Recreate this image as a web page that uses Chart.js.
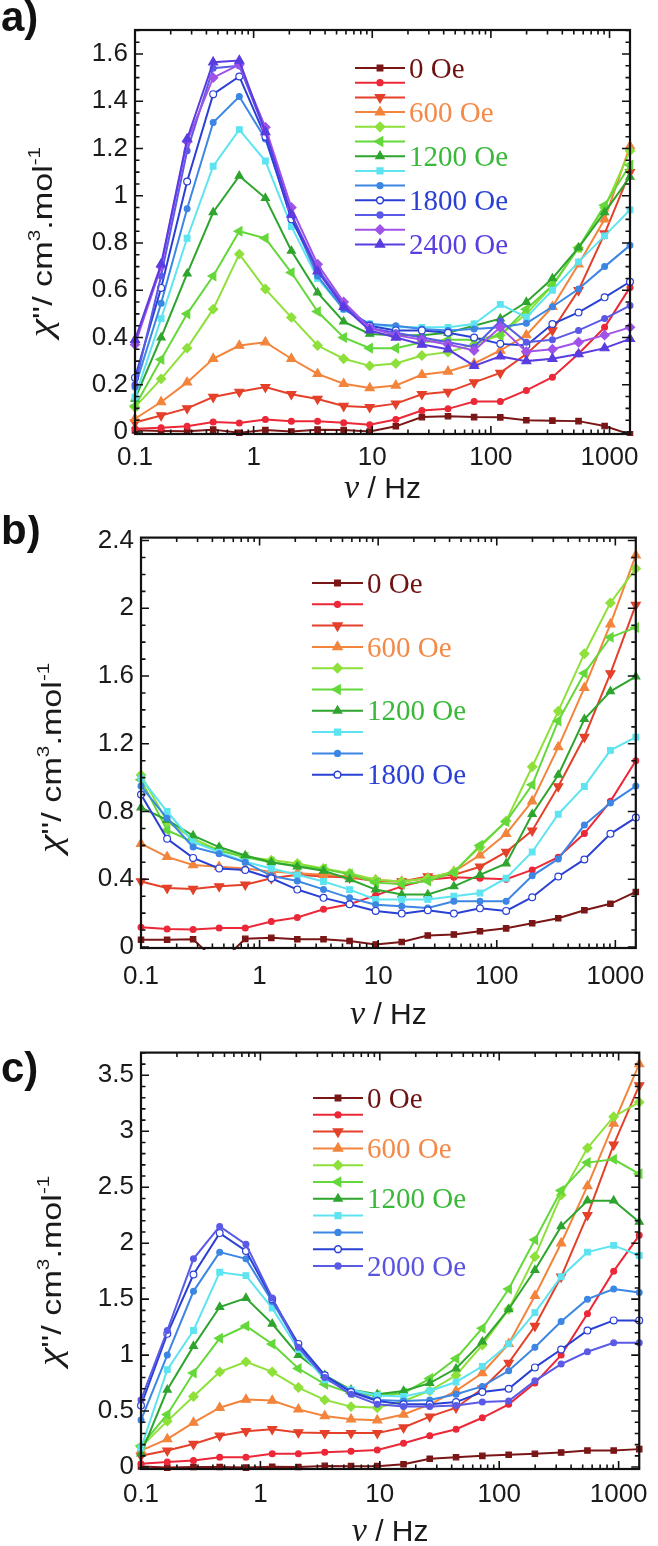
<!DOCTYPE html>
<html lang="en">
<head>
<meta charset="UTF-8">
<title>chi'' vs frequency - a, b, c</title>
<script src="https://cdn.jsdelivr.net/npm/chart.js"></script>
<style>
  body { margin: 0; background: #fff; }
  .panel { position: absolute; left: 0; width: 658px; }
  #wrapA { top: 0; height: 515px; }
  #wrapB { top: 515px; height: 515px; }
  #wrapC { top: 1030px; height: 516px; }
</style>
</head>
<body>
<div class="panel" id="wrapA"><canvas id="chartA" width="658" height="515"></canvas></div>
<div class="panel" id="wrapB"><canvas id="chartB" width="658" height="515"></canvas></div>
<div class="panel" id="wrapC"><canvas id="chartC" width="658" height="516"></canvas></div>
<script>
// frequencies (Hz), same for all three panels
const freq = [0.1, 0.166, 0.275, 0.456, 0.757, 1.256, 2.08, 3.46, 5.74, 9.52, 15.8, 26.2, 43.5, 72.2, 120, 199, 330, 548, 909, 1488];
const xTicks = [0.1, 1, 10, 100, 1000];

// ---- panel a) : chi'' (cm3/mol), 0..2400 Oe
const a0    = [0.007,0.004,0.003,0.010,-0.003,0.008,0.002,0.010,0.008,0.002,0.024,0.063,0.067,0.063,0.062,0.050,0.048,0.046,0.025,-0.010];
const a200  = [0.014,0.018,0.024,0.042,0.038,0.053,0.045,0.045,0.039,0.031,0.053,0.091,0.098,0.129,0.129,0.176,0.232,0.331,0.443,0.612];
const a400  = [0.040,0.070,0.100,0.148,0.170,0.190,0.160,0.140,0.110,0.105,0.120,0.160,0.170,0.210,0.250,0.330,0.430,0.600,0.840,1.100];
const a600  = [0.056,0.127,0.210,0.310,0.366,0.380,0.310,0.246,0.204,0.186,0.197,0.242,0.256,0.290,0.345,0.410,0.530,0.710,0.900,1.210];
const a800  = [0.105,0.225,0.355,0.520,0.753,0.605,0.485,0.366,0.310,0.280,0.290,0.324,0.338,0.370,0.410,0.500,0.620,0.780,0.950,1.190];
const a1000 = [0.110,0.307,0.500,0.660,0.850,0.820,0.675,0.510,0.400,0.355,0.355,0.380,0.390,0.390,0.410,0.520,0.620,0.780,0.960,1.130];
const a1200 = [0.140,0.400,0.670,0.930,1.084,0.990,0.767,0.590,0.467,0.415,0.410,0.410,0.420,0.450,0.480,0.550,0.650,0.780,0.930,1.080];
const a1400 = [0.148,0.480,0.820,1.125,1.280,1.147,0.870,0.650,0.520,0.457,0.443,0.443,0.443,0.457,0.540,0.486,0.600,0.720,0.830,0.940];
const a1600 = [0.190,0.545,0.945,1.310,1.420,1.240,0.910,0.660,0.520,0.457,0.450,0.436,0.430,0.436,0.443,0.460,0.530,0.605,0.700,0.790];
const a1800 = [0.230,0.610,1.060,1.430,1.505,1.250,0.900,0.690,0.530,0.450,0.430,0.430,0.420,0.400,0.373,0.366,0.457,0.506,0.570,0.636];
const a2000 = [0.200,0.660,1.190,1.540,1.550,1.270,0.920,0.690,0.540,0.440,0.420,0.400,0.380,0.360,0.470,0.380,0.390,0.430,0.480,0.535];
const a2200 = [0.370,0.700,1.230,1.500,1.555,1.290,0.950,0.710,0.550,0.440,0.410,0.390,0.370,0.345,0.443,0.340,0.350,0.380,0.410,0.443];
const a2400 = [0.390,0.710,1.240,1.565,1.572,1.270,0.920,0.680,0.530,0.430,0.400,0.370,0.350,0.280,0.320,0.300,0.310,0.330,0.355,0.394];
const fieldsA = [0, 200, 400, 600, 800, 1000, 1200, 1400, 1600, 1800, 2000, 2200, 2400];
const seriesA = [a0, a200, a400, a600, a800, a1000, a1200, a1400, a1600, a1800, a2000, a2200, a2400];
const legendA = ['0 Oe', '', '', '600 Oe', '', '', '1200 Oe', '', '', '1800 Oe', '', '', '2400 Oe'];
const yTicksA = [0, 0.2, 0.4, 0.6, 0.8, 1, 1.2, 1.4, 1.6];

// ---- panel b) : 0..1800 Oe
const b0    = [0.043,0.043,0.046,-0.100,0.048,0.054,0.046,0.046,0.035,0.015,0.029,0.068,0.074,0.093,0.110,0.140,0.170,0.217,0.255,0.325];
const b200  = [0.116,0.106,0.103,0.112,0.112,0.151,0.174,0.223,0.252,0.305,0.358,0.397,0.412,0.406,0.400,0.455,0.530,0.670,0.860,1.100];
const b400  = [0.387,0.348,0.342,0.358,0.368,0.406,0.426,0.416,0.410,0.390,0.387,0.416,0.426,0.474,0.561,0.687,0.948,1.240,1.616,2.020];
const b600  = [0.610,0.532,0.484,0.474,0.464,0.445,0.435,0.426,0.416,0.395,0.387,0.406,0.445,0.542,0.668,0.861,1.180,1.530,1.906,2.313];
const b800  = [1.016,0.740,0.639,0.571,0.532,0.513,0.493,0.464,0.435,0.397,0.387,0.406,0.445,0.590,0.745,1.064,1.393,1.732,2.032,2.235];
const b1000 = [0.987,0.690,0.620,0.570,0.530,0.500,0.480,0.460,0.430,0.380,0.370,0.390,0.440,0.600,0.740,0.958,1.335,1.616,1.829,1.887];
const b1200 = [0.823,0.750,0.658,0.590,0.540,0.500,0.475,0.450,0.400,0.339,0.310,0.310,0.358,0.426,0.493,0.784,1.016,1.345,1.510,1.597];
const b1400 = [0.997,0.800,0.620,0.560,0.503,0.464,0.426,0.387,0.339,0.281,0.281,0.281,0.300,0.319,0.406,0.561,0.784,0.948,1.161,1.239];
const b1600 = [0.950,0.760,0.590,0.550,0.500,0.420,0.390,0.340,0.290,0.250,0.240,0.230,0.270,0.270,0.270,0.420,0.520,0.720,0.850,0.950];
const b1800 = [0.900,0.639,0.526,0.464,0.455,0.406,0.339,0.290,0.252,0.213,0.197,0.217,0.197,0.228,0.213,0.294,0.416,0.517,0.668,0.764];
const fieldsB = [0, 200, 400, 600, 800, 1000, 1200, 1400, 1600, 1800];
const seriesB = [b0, b200, b400, b600, b800, b1000, b1200, b1400, b1600, b1800];
const legendB = ['0 Oe', '', '', '600 Oe', '', '', '1200 Oe', '', '', '1800 Oe'];
const yTicksB = [0, 0.4, 0.8, 1.2, 1.6, 2, 2.4];

// ---- panel c) : 0..2000 Oe
const c0    = [0.005,-0.005,0.000,0.000,-0.005,0.002,0.000,0.010,0.008,0.008,0.025,0.074,0.088,0.100,0.110,0.118,0.130,0.147,0.147,0.160];
const c200  = [0.030,0.044,0.059,0.088,0.088,0.118,0.118,0.132,0.141,0.153,0.212,0.280,0.338,0.440,0.560,0.750,1.000,1.370,1.750,2.070];
const c400  = [0.100,0.147,0.206,0.280,0.320,0.338,0.309,0.303,0.303,0.303,0.353,0.450,0.530,0.700,0.930,1.260,1.700,2.250,2.880,3.410];
const c600  = [0.147,0.250,0.397,0.530,0.603,0.594,0.515,0.456,0.426,0.418,0.470,0.560,0.680,0.840,1.100,1.530,2.000,2.510,3.070,3.600];
const c800  = [0.180,0.410,0.630,0.850,0.940,0.850,0.710,0.600,0.540,0.530,0.590,0.680,0.820,1.090,1.410,1.880,2.430,2.850,3.130,3.260];
const c1000 = [0.190,0.470,0.840,1.150,1.260,1.100,0.880,0.740,0.660,0.640,0.660,0.790,0.970,1.240,1.590,2.030,2.470,2.720,2.750,2.620];
const c1200 = [0.120,0.690,1.080,1.430,1.510,1.280,1.000,0.820,0.690,0.650,0.680,0.750,0.880,1.120,1.410,1.760,2.150,2.380,2.380,2.190];
const c1400 = [0.170,0.870,1.220,1.740,1.710,1.420,1.050,0.780,0.690,0.640,0.630,0.680,0.760,0.900,1.100,1.380,1.700,1.920,1.980,1.890];
const c1600 = [0.420,1.000,1.570,1.920,1.860,1.480,1.080,0.810,0.680,0.600,0.590,0.600,0.650,0.720,0.860,1.070,1.300,1.500,1.590,1.560];
const c1800 = [0.550,1.190,1.720,2.090,1.930,1.500,1.100,0.820,0.670,0.590,0.560,0.560,0.580,0.670,0.700,0.890,1.050,1.220,1.310,1.310];
const c2000 = [0.600,1.220,1.860,2.150,1.990,1.510,1.070,0.800,0.650,0.560,0.540,0.540,0.550,0.580,0.590,0.770,0.920,1.030,1.110,1.110];
const fieldsC = [0, 200, 400, 600, 800, 1000, 1200, 1400, 1600, 1800, 2000];
const seriesC = [c0, c200, c400, c600, c800, c1000, c1200, c1400, c1600, c1800, c2000];
const legendC = ['0 Oe', '', '', '600 Oe', '', '', '1200 Oe', '', '', '', '2000 Oe'];
const yTicksC = [0, 0.5, 1, 1.5, 2, 2.5, 3, 3.5];

// look of each field (same in every panel)
const styleOf = {
  0:    { color: '#7a1616', text: '#6e1212', point: 'rect', r: 3.8 },
  200:  { color: '#ec2838', point: 'circle', r: 2.9 },
  400:  { color: '#e4402a', point: 'triangle', r: 5.2, rot: 180 },
  600:  { color: '#f3843c', text: '#f38a48', point: 'triangle', r: 5.2 },
  800:  { color: '#8ee03a', point: 'rectRot', r: 4.6 },
  1000: { color: '#64d83a', point: 'triangle', r: 5.2, rot: 270 },
  1200: { color: '#2ea52e', text: '#3ab83a', point: 'triangle', r: 4.6 },
  1400: { color: '#5ee4f0', point: 'rect', r: 4 },
  1600: { color: '#3c86e4', point: 'circle', r: 2.9 },
  1800: { color: '#2a40d4', text: '#2a40d4', point: 'circle', r: 3.4, open: true },
  2000: { color: '#5a5ae6', text: '#5a55e0', point: 'circle', r: 2.9 },
  2200: { color: '#a052e8', point: 'rectRot', r: 4.6 },
  2400: { color: '#5a3ce0', text: '#5a3ee0', point: 'triangle', r: 5.2 }
};

function fmt(v) { return String(+v.toFixed(2)); }

function drawMarker(ctx, st, x, y) {
  ctx.fillStyle = st.open ? '#fff' : st.color;
  ctx.strokeStyle = st.color;
  ctx.lineWidth = 1.5;
  const opts = { pointStyle: st.point, radius: st.r, rotation: st.rot || 0, borderWidth: 1.5 };
  if (Chart.helpers && Chart.helpers.drawPoint) {
    Chart.helpers.drawPoint(ctx, opts, x, y);
  } else {
    ctx.beginPath(); ctx.arc(x, y, st.r, 0, Math.PI * 2); ctx.fill(); ctx.stroke();
  }
}

// rotated title, stretched a little along its length like the original
function drawYTitle(ctx, bx, cy, size) {
  const small = Math.round(size * 0.62);
  const parts = [
    { t: '\u03c7', f: 'italic ' + (size + 6) + 'px "Liberation Serif"', dy: 0 },
    { t: "''/ cm", f: size + 'px "Liberation Sans"', dy: 0 },
    { t: '3', f: small + 'px "Liberation Sans"', dy: -size * 0.42 },
    { t: '.mol', f: size + 'px "Liberation Sans"', dy: 0 },
    { t: '-1', f: small + 'px "Liberation Sans"', dy: -size * 0.42 }
  ];
  let total = 0;
  parts.forEach(p => { ctx.font = p.f; p.w = ctx.measureText(p.t).width; total += p.w; });
  ctx.save();
  ctx.translate(bx, cy);
  ctx.rotate(-Math.PI / 2);
  ctx.scale(1.22, 1);
  ctx.fillStyle = '#1a1a1a';
  ctx.textBaseline = 'alphabetic';
  ctx.textAlign = 'left';
  let x = -total / 2;
  parts.forEach(p => { ctx.font = p.f; ctx.fillText(p.t, x, p.dy); x += p.w; });
  ctx.restore();
}

function drawXTitle(ctx, cx, by) {
  const p1 = { t: '\u03bd', f: 'italic 34px "Liberation Serif"' };
  const p2 = { t: ' / Hz', f: '30px "Liberation Sans"' };
  ctx.font = p1.f; const w1 = ctx.measureText(p1.t).width;
  ctx.font = p2.f; const w2 = ctx.measureText(p2.t).width;
  let x = cx - (w1 + w2) / 2;
  ctx.fillStyle = '#1a1a1a';
  ctx.textAlign = 'left';
  ctx.textBaseline = 'alphabetic';
  ctx.font = p1.f; ctx.fillText(p1.t, x, by);
  ctx.font = p2.f; ctx.fillText(p2.t, x + w1, by);
}

// frame, inward ticks, legend, titles and panel letter
function decor(cfg) {
  return {
    id: 'decor',
    afterDraw(chart) {
      const ctx = chart.ctx, ca = chart.chartArea;
      const xs = chart.scales.x, ys = chart.scales.y;
      ctx.save();
      ctx.strokeStyle = '#111';
      ctx.lineWidth = 1.6;
      ctx.beginPath();
      for (let e = -1; e <= 3; e++) {
        for (let m = 1; m <= 9; m++) {
          const v = m * Math.pow(10, e);
          if (v > xs.max) continue;
          const px = xs.getPixelForValue(v);
          const len = m === 1 ? 8 : 4.5;
          ctx.moveTo(px, ca.bottom); ctx.lineTo(px, ca.bottom - len);
          ctx.moveTo(px, ca.top); ctx.lineTo(px, ca.top + len);
        }
      }
      const n = Math.floor(ys.max / cfg.minor + 1e-6);
      for (let i = 0; i <= n; i++) {
        const py = ys.getPixelForValue(i * cfg.minor);
        const len = i % cfg.perMajor === 0 ? 8 : 4.5;
        ctx.moveTo(ca.left, py); ctx.lineTo(ca.left + len, py);
        ctx.moveTo(ca.right, py); ctx.lineTo(ca.right - len, py);
      }
      ctx.stroke();
      ctx.lineWidth = 2.2;
      ctx.strokeRect(ca.left, ca.top, ca.right - ca.left, ca.bottom - ca.top);

      // legend
      cfg.fields.forEach((f, i) => {
        const st = styleOf[f];
        const y = cfg.legY + i * cfg.legDy;
        ctx.strokeStyle = st.color;
        ctx.lineWidth = 2;
        ctx.beginPath(); ctx.moveTo(cfg.legX1, y); ctx.lineTo(cfg.legX2, y); ctx.stroke();
        drawMarker(ctx, st, (cfg.legX1 + cfg.legX2) / 2, y);
        if (cfg.labels[i]) {
          ctx.font = '29px "Liberation Serif"';
          ctx.fillStyle = st.text || st.color;
          ctx.textAlign = 'left';
          ctx.textBaseline = 'middle';
          ctx.fillText(cfg.labels[i], cfg.legX2 + 4, y + 2);
        }
      });

      drawYTitle(ctx, cfg.yTitleX, (ca.top + ca.bottom) / 2 + cfg.yTitleShift, 28);
      drawXTitle(ctx, (ca.left + ca.right) / 2, cfg.xTitleY);

      ctx.font = 'bold 42px "Liberation Sans"';
      ctx.fillStyle = '#111';
      ctx.textAlign = 'left';
      ctx.textBaseline = 'alphabetic';
      ctx.fillText(cfg.letter, 1, cfg.letterY);
      ctx.restore();
    }
  };
}

function makeChart(id, fields, series, yTicks, box, cfg) {
  const datasets = fields.map((f, i) => {
    const st = styleOf[f];
    return {
      label: f + ' Oe',
      data: freq.map((x, k) => ({ x: x, y: series[i][k] })),
      borderColor: st.color,
      borderWidth: 2,
      pointStyle: st.point,
      pointRadius: st.r,
      pointRotation: st.rot || 0,
      pointBackgroundColor: st.open ? '#fff' : st.color,
      pointBorderColor: st.color,
      pointBorderWidth: 1.2,
      tension: 0,
      order: -f,
      clip: { left: 8, right: 8, top: 8, bottom: 2 }
    };
  });
  return new Chart(document.getElementById(id), {
    type: 'line',
    data: { datasets: datasets },
    options: {
      responsive: false,
      animation: false,
      devicePixelRatio: 1,
      layout: { padding: { top: box.top, right: box.right, left: 0, bottom: 0 } },
      plugins: { legend: { display: false }, tooltip: { enabled: false } },
      scales: {
        x: {
          type: 'logarithmic',
          min: 0.1,
          max: 1488,
          afterBuildTicks: s => { s.ticks = xTicks.map(v => ({ value: v })); },
          afterFit: s => { s.height = box.xh; },
          ticks: {
            autoSkip: false, maxRotation: 0, padding: box.xpad, color: '#1a1a1a',
            font: { family: 'Liberation Sans', size: 26 },
            callback: v => fmt(v)
          },
          grid: { display: false, drawTicks: false },
          border: { display: false }
        },
        y: {
          type: 'linear',
          min: box.ymin,
          max: box.ymax,
          afterBuildTicks: s => { s.ticks = yTicks.map(v => ({ value: v })); },
          afterFit: s => { s.width = box.yw; },
          ticks: {
            padding: 7, color: '#1a1a1a',
            font: { family: 'Liberation Sans', size: 26 },
            callback: v => fmt(v)
          },
          grid: { display: false, drawTicks: false },
          border: { display: false }
        }
      }
    },
    plugins: [decor(Object.assign({ fields: fields }, cfg))]
  });
}

makeChart('chartA', fieldsA, seriesA, yTicksA,
  { top: 30, right: 28, yw: 135, xh: 81, xpad: 8, ymin: -0.0085, ymax: 1.7016 },
  { labels: legendA, minor: 0.05, perMajor: 4, legX1: 355, legX2: 405, legY: 68, legDy: 14.7,
    yTitleX: 52, yTitleShift: 10, xTitleY: 498, letter: 'a)', letterY: 31 });

makeChart('chartB', fieldsB, seriesB, yTicksB,
  { top: 18, right: 18, yw: 141, xh: 82, xpad: 13, ymin: -0.006, ymax: 2.4175 },
  { labels: legendB, minor: 0.1, perMajor: 4, legX1: 312, legX2: 363, legY: 68, legDy: 21.3,
    yTitleX: 61, yTitleShift: 15, xTitleY: 509, letter: 'b)', letterY: 29 });

makeChart('chartC', fieldsC, seriesC, yTicksC,
  { top: 17, right: 11, yw: 141, xh: 77, xpad: 10, ymin: -0.0176, ymax: 3.703 },
  { labels: legendC, minor: 0.1, perMajor: 5, legX1: 313, legX2: 363, legY: 68, legDy: 16.8,
    yTitleX: 61, yTitleShift: 10, xTitleY: 511, letter: 'c)', letterY: 52 });
</script>
</body>
</html>
